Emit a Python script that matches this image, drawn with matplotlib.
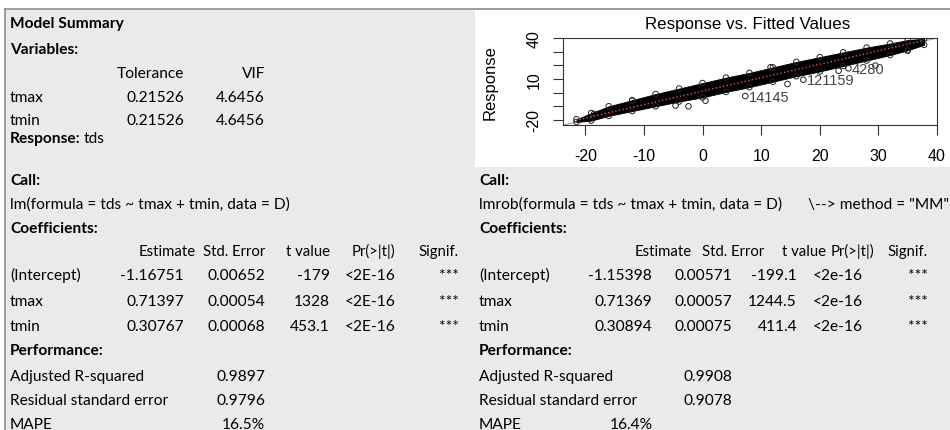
import numpy as np
import matplotlib.pyplot as plt
from matplotlib.patches import Rectangle

plt.rcParams['axes.unicode_minus'] = False

# ---- data ----
vif_names = ['tmax', 'tmin']
tolerance = ['0.21526', '0.21526']
vif = ['4.6456', '4.6456']

coef_names = ['(Intercept)', 'tmax', 'tmin']
coef_header = ['Estimate', 'Std. Error', 't value', 'Pr(>|t|)', 'Signif.']
lm_est = ['-1.16751', '0.71397', '0.30767']
lm_se = ['0.00652', '0.00054', '0.00068']
lm_t = ['-179', '1328', '453.1']
lm_p = ['<2E-16', '<2E-16', '<2E-16']
lm_sig = ['***', '***', '***']
rob_est = ['-1.15398', '0.71369', '0.30894']
rob_se = ['0.00571', '0.00057', '0.00075']
rob_t = ['-199.1', '1244.5', '411.4']
rob_p = ['<2e-16', '<2e-16', '<2e-16']
rob_sig = ['***', '***', '***']

perf_names = ['Adjusted R-squared', 'Residual standard error', 'MAPE']
lm_perf = ['0.9897', '0.9796', '16.5%']
rob_perf = ['0.9908', '0.9078', '16.4%']

# response vs fitted: edges of the dense point cloud, outliers, fit line
band_x = [-21.5, -19, -16, -12, -8, -4, 0, 4, 8, 12, 16, 20, 24, 28, 32, 35, 37.8]
band_hi = [-19.5, -15, -10, -5.5, -1, 3, 7, 11, 14.5, 18.5, 22.5, 26, 29.5, 33, 36, 38.5, 39.5]
band_lo = [-21.5, -20.5, -17, -13.5, -10, -6.5, -3.5, 0.5, 4, 8, 12, 15.5, 19.5, 23.5, 27.5, 31, 35]
out_x = [-4.6, -2.4, 0.5, 7.3, 14.5, 17.2, 23.2, 24.9, 29.5, 35.0, 11.6, -12.0, -18.5]
out_y = [-9.5, -10.0, -5.9, -2.5, 6.3, 9.5, 16.0, 17.8, 19.8, 30.7, 18.6, -5.9, -15.5]
out_lab = ['', '', '', '14145', '', '121159', '', '4280', '', '', '', '', '']
fit_x = [-21.0, 37.5]
fit_y = [-19.6, 38.0]
ref_x = [-25, 41]
xticks = [-20, -10, 0, 10, 20, 30, 40]
yticks = [-20, -10, 0, 10, 20, 30, 40]
ytick_labels = ['-20', '', '', '10', '', '', '40']

W, H = 950, 431
fig = plt.figure(figsize=(W / 100, H / 100), dpi=100)
fig.patch.set_facecolor('white')

bg = fig.add_axes([0, 0, 1, 1])
bg.set_xlim(0, W)
bg.set_ylim(H, 0)
bg.axis('off')

panel = '#eaeaea'
bg.add_patch(Rectangle((5, 10), W - 5, H - 10, fc=panel, ec='none'))
bg.add_patch(Rectangle((475, 11), W - 475, 157, fc='white', ec='none'))
bg.plot([5, W], [10, 10], color='#8c8c8c', lw=1.2)
bg.plot([5, 5], [10, H], color='#8c8c8c', lw=1.2)

font = 'Lato'
fs = 11.2


def txt(x, y, s, ha='left', bold=False, size=fs):
    return bg.text(x, y, s, ha=ha, va='baseline', fontsize=size, family=font,
                   fontweight='bold' if bold else 'normal', color='black')


# ---- left top block ----
txt(10, 28, 'Model Summary', bold=True)
txt(10, 54, 'Variables:', bold=True)
txt(184, 78, 'Tolerance', ha='right')
txt(265, 78, 'VIF', ha='right')
for i, (n, t, v) in enumerate(zip(vif_names, tolerance, vif)):
    y = 102 + i * 23.5
    txt(10, y, n)
    txt(184, y, t, ha='right')
    txt(265, y, v, ha='right')
r = txt(10, 143, 'Response:', bold=True)
bg.annotate('tds', xy=(1, 0), xycoords=r, xytext=(2.5, 0), textcoords='offset points',
            va='bottom', fontsize=fs, family=font)

rows = [185, 209, 233, 256, 280, 306, 331, 355, 381, 405, 429]


def summary(x0, call, est, se, tv, pv, sig, perf, hcols, vcols, pcols):
    txt(x0, rows[0], 'Call:', bold=True)
    txt(x0, rows[1], call)
    txt(x0, rows[2], 'Coefficients:', bold=True)
    for h, cx in zip(coef_header, hcols):
        txt(cx, rows[3], h, ha='right', size=fs - 0.5)
    for i, n in enumerate(coef_names):
        y = rows[4 + i]
        txt(x0, y, n)
        for val, cx in zip([est[i], se[i], tv[i], pv[i], sig[i]], vcols):
            txt(cx, y, val, ha='right')
    txt(x0, rows[7], 'Performance:', bold=True)
    for i, n in enumerate(perf_names):
        txt(x0, rows[8 + i], n)
        txt(pcols[i], rows[8 + i], perf[i], ha='right')


summary(10, 'lm(formula = tds ~ tmax + tmin, data = D)',
        lm_est, lm_se, lm_t, lm_p, lm_sig, lm_perf,
        [196, 265, 330, 395, 459], [184, 265, 330, 395, 459], [265, 265, 265])
summary(479, 'lmrob(formula = tds ~ tmax + tmin, data = D)',
        rob_est, rob_se, rob_t, rob_p, rob_sig, rob_perf,
        [692, 764, 826, 874, 928], [652, 732, 797, 863, 928], [732, 732, 653])
txt(808, rows[1], '\\--> method = "MM"')

# ---- response vs fitted plot ----
ax = fig.add_axes([563 / W, 1 - 126 / H, 374 / W, 87 / H])
ax.set_facecolor('white')
ax.set_xlim(-23.8, 40)
ax.set_ylim(-23.7, 40)
ax.plot(ref_x, ref_x, color='#a0a0a0', lw=0.8, zorder=1)
ax.fill_between(band_x, band_lo, band_hi, color='black', lw=0.6, ec='black', zorder=2)
ax.scatter(band_x, band_hi, s=16, facecolors='none', edgecolors='#222222', lw=0.7, zorder=3)
ax.scatter(band_x, band_lo, s=16, facecolors='none', edgecolors='#222222', lw=0.7, zorder=3)
ax.scatter(out_x, out_y, s=16, facecolors='none', edgecolors='#222222', lw=0.7, zorder=3)
for x, y, lab in zip(out_x, out_y, out_lab):
    if lab:
        ax.text(x + 0.6, y - 0.5, lab, fontsize=10.5, family='Liberation Sans',
                color='#444444', va='center', ha='left', zorder=4)
ax.plot(fit_x, fit_y, color='#df536b', lw=1.0, ls=':', zorder=5)

ax.set_xticks(xticks)
ax.set_yticks(yticks)
ax.set_yticklabels(ytick_labels, rotation=90, va='center')
for lab in ax.get_xticklabels() + ax.get_yticklabels():
    lab.set_family('Liberation Sans')
    lab.set_fontsize(11.5)
ax.tick_params(axis='both', direction='out', length=7.5, width=0.8, color='#333333')
ax.tick_params(axis='x', pad=9)
ax.tick_params(axis='y', pad=8)
for sp in ax.spines.values():
    sp.set_color('#333333')
    sp.set_linewidth(0.8)

bg.text(748, 25, 'Response vs. Fitted Values', ha='center', va='center',
        fontsize=12.2, family='Liberation Sans')
bg.text(490, 83, 'Response', ha='center', va='center', rotation=90,
        fontsize=12, family='Liberation Sans')

fig.savefig('out.png', dpi=100, facecolor='white')
